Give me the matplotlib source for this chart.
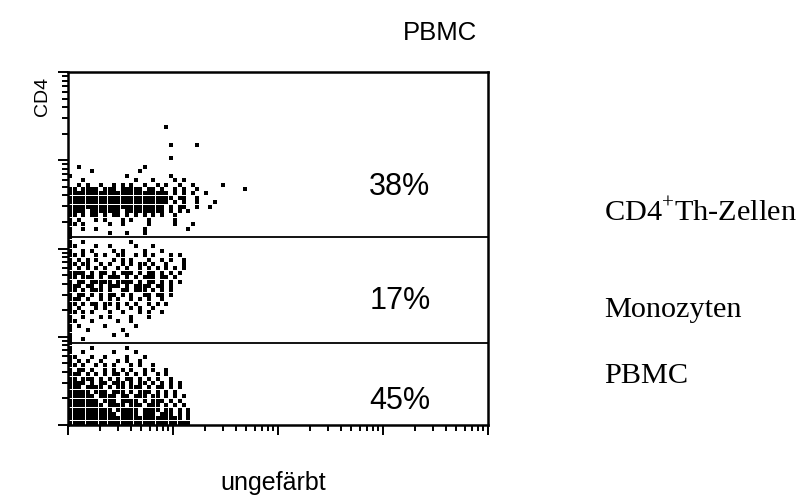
import numpy as np
import matplotlib.pyplot as plt

plt.rcParams["font.family"] = ["Liberation Sans", "DejaVu Sans"]
plt.rcParams["mathtext.fontset"] = "custom"
plt.rcParams["mathtext.rm"] = "Liberation Serif"

# gate limits on the CD4 axis (fluorescence units) and the share of events per gate
gate_bounds = [8.5, 135]
gate_pct = ["45%", "17%", "38%"]          # bottom, middle, top
gate_names = ["CD4$^{\\mathrm{+}}$Th-Zellen", "Monozyten", "PBMC"]

# event map: one row per CD4 bin from the top (log 3.4) down, one char per x bin
events = [
    "......................#",
    "",
    "",
    "",
    ".......................#.....#",
    "",
    "",
    ".......................#",
    "",
    "..#..............#",
    ".....#..........#",
    "#............#.........#",
    "...#...........#...#....#.#",
    "..#.#..#..#.#.#..#..#.#..#..#......#",
    "##.####.###.#####.##.#..#.#..#..........#",
    "#######################.#.#.#..#",
    "########################.##..#",
    "#######################.#.#..#...#",
    "######################.#.##..#..#",
    "####.#######.#########.#.#.#",
    "##.#.##.#.##.#.#.#.#.#..#",
    "#.#...#.#...#.#...#.....#",
    "##.#.....#..#.....#.....#...#",
    "#..#..#..........#.........#",
    "#........#...#...#",
    "#",
    "#..#..........#",
    "##....#..#.....#...#",
    "#..#.#....#.#....#...#",
    "##.#..#.#..##..#.#.#...#.#",
    "#.#.#.#...#.#.#...#..#.#..#",
    "##.##..#.#..#.#.##.#..#...#",
    "#.#.#.#.#..#.#..#.#.#.#.#.#",
    "####.#.##.#.###.#.##.#.#.#",
    "##.###.#.###.#.#.###.##.#..",
    "#.##.#####.####.#.##.#.#.#",
    "###.##.#.###.#.####.##.#.",
    "##.#.###.#..##.###.#.#.#",
    "#.##.#.#.##.#.#..##.##.#",
    "###.#..#.#.#..#.#.#..#",
    "##.#.##.##.#.#.#..#.#.#",
    "#.#...#.#..#..#.#..#",
    "##.#.#...#..#...#.#..#",
    "#..#...#.#....#...#",
    "##...#.....#..#",
    "#.#.....#......#",
    "#...#.......#",
    "#.........#..#",
    "#..#",
    "#",
    "#....#.......#",
    "#..#......#....#",
    "##...#..#....#...#",
    "#.#.#..#...#.#..#",
    "##.#..#.#.#...#.#..#",
    "#.##.#..#.#.#.#..#.#..#",
    "###.#.#.#.##.#.#.#..#.#",
    "##.###.#.#.#.##.#.#.#..#",
    "####.#.##.###.#.##.#.#.#.#",
    "###.####.#.##.###.#.##.#.#",
    "#####.###.###.#.###.#.#.#",
    "######.####.##.###.##.#.#.#",
    "#######.###.####.#.###.#.#",
    "########.####.###.###.#.#.#",
    "##########.#####.####.##.#.#",
    "###########.####.###.###.#.#",
    "##########################.#",
    "############################",
]

# bin geometry of the event map, in decades
x_step, y_step, y_top = 1 / 24, 0.05, 3.4

xs, ys = [], []
for r, row in enumerate(events):
    for c, ch in enumerate(row):
        if ch == "#":
            xs.append((c + 0.5) * x_step)
            ys.append(y_top - (r + 0.5) * y_step)
xs = 10 ** np.array(xs)
ys = 10 ** np.array(ys)

fig = plt.figure(figsize=(8.02, 4.97), dpi=100)
ax = fig.add_axes([68 / 802, 72 / 497, 420 / 802, 353 / 497])

ax.scatter(xs, ys, s=9, marker="s", c="black", linewidths=0)

ax.set_xscale("log")
ax.set_yscale("log")
ax.set_xlim(1, 1e4)
ax.set_ylim(1, 1e4)

for b in gate_bounds:
    ax.axhline(b, color="black", lw=1.3)

for sp in ax.spines.values():
    sp.set_linewidth(1.8)

ax.tick_params(which="both", labelleft=False, labelbottom=False, width=1.4)
ax.tick_params(which="major", length=7)
ax.tick_params(which="minor", length=4)

# percentages inside each gate
for pct, ypx in zip(gate_pct, [401, 301, 187]):
    ax.text(0.79, (425 - ypx) / 353, pct, transform=ax.transAxes,
            ha="center", va="center", fontsize=22)

fig.text(440 / 802, 1 - 33 / 497, "PBMC", ha="center", va="center", fontsize=18.5)
fig.text(43 / 802, 1 - 96 / 497, "CD4", ha="center", va="center",
         rotation=90, fontsize=14)
fig.text(273 / 802, 1 - 483 / 497, "ungefärbt", ha="center", va="center",
         fontsize=18)

for name, ypx in zip(gate_names, [213, 310, 376]):
    fig.text(604 / 802, 1 - ypx / 497, name, ha="left", va="center",
             fontsize=21.8, family="Liberation Serif")

fig.savefig("out.png", dpi=100)
